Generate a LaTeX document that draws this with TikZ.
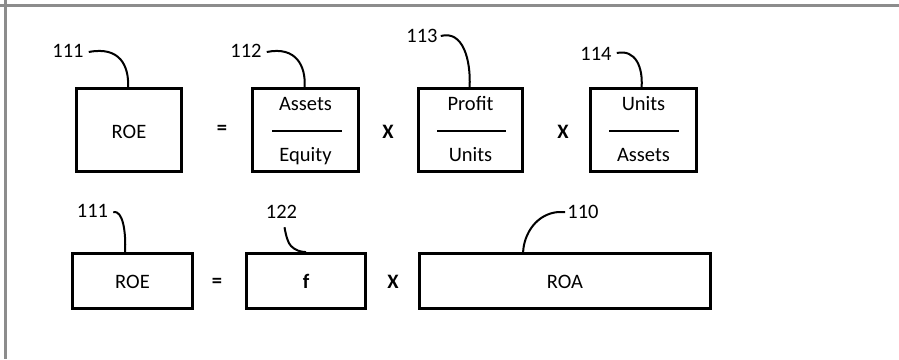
\documentclass[tikz,border=0pt]{standalone}
\usepackage{fontspec}
\setmainfont{Carlito}
\usetikzlibrary{calc}
\begin{document}
\begin{tikzpicture}[x=1pt,y=-1pt,
  every node/.style={font=\fontsize{20.5}{24}\selectfont},
  boxnode/.style={draw=black,line width=2.8pt,inner sep=0pt},
  lbl/.style={anchor=base,inner sep=0pt},
  txt/.style={anchor=base,inner sep=0pt},
  op/.style={anchor=base,inner sep=0pt,font=\fontsize{20.5}{24}\selectfont\bfseries},
  fracline/.style={line width=2.8pt},
  leader/.style={line width=2pt}]
\useasboundingbox (0,0) rectangle (899,359);
\fill[white] (0,0) rectangle (899,359);
\draw[black!45,line width=3pt] (0,5) -- (899,5);
\draw[black!45,line width=3pt] (5.8,0) -- (5.8,359);

% top row boxes
\node[boxnode,minimum width=105pt,minimum height=83pt] (roeA) at (129,130) {};
\node[boxnode,minimum width=106pt,minimum height=83pt] (fracA) at (305.5,130) {};
\node[boxnode,minimum width=104pt,minimum height=83pt] (fracB) at (470.5,130) {};
\node[boxnode,minimum width=106pt,minimum height=83pt] (fracC) at (643.5,130) {};

\node[txt] (roeAt) at (129,138) {ROE};
\node[op] (eqA) at (222,134) {=};
\node[op] (xA) at (388,138) {X};
\node[op] (xB) at (563,138) {X};

\node[txt] (nA1) at (305.5,110) {Assets};
\node[txt] (dA1) at (305.5,161) {Equity};
\node[txt] (nB1) at (470.5,110) {Profit};
\node[txt] (dB1) at (470.5,161) {Units};
\node[txt] (nC1) at (643.5,110) {Units};
\node[txt] (dC1) at (643.5,161) {Assets};
\coordinate (fa1) at (272,131); \coordinate (fa2) at (342,131);
\coordinate (fb1) at (437,131); \coordinate (fb2) at (506,131);
\coordinate (fc1) at (609,131); \coordinate (fc2) at (679,131);
\draw[fracline] (fa1) -- (fa2);
\draw[fracline] (fb1) -- (fb2);
\draw[fracline] (fc1) -- (fc2);

% top labels
\node[lbl] (l111a) at (68,57) {111};
\node[lbl] (l112) at (246,57) {112};
\node[lbl] (l113) at (422,42) {113};
\node[lbl] (l114) at (596,60) {114};

\draw[leader] ($(l111a.base east)+(5,-5)$) .. controls (120,46) and (129,66) .. ($(roeA.north west)+(53,0)$);
\draw[leader] ($(l112.base east)+(5,-5)$) .. controls (296,46) and (306,66) .. ($(fracA.north west)+(53.5,0)$);
\draw[leader] ($(l113.base east)+(3,-6)$) .. controls (463,30) and (471,60) .. ($(fracB.north west)+(52.5,0)$);
\draw[leader] ($(l114.base east)+(5,-7)$) .. controls (636,49) and (643,68) .. ($(fracC.north west)+(52.5,0)$);

% bottom row
\node[boxnode,minimum width=120pt,minimum height=55pt] (roeB) at (132.5,281) {};
\node[boxnode,minimum width=119pt,minimum height=55pt] (fbox) at (306,281) {};
\node[boxnode,minimum width=291pt,minimum height=55pt] (roa) at (565,281) {};

\node[txt] (roeBt) at (132.5,288) {ROE};
\node[op] (eqB) at (217,287) {=};
\node[op] (ft) at (306,288) {f};
\node[op] (xC) at (393,288) {X};
\node[txt] (roat) at (565,288) {ROA};

\node[lbl] (l111b) at (92.5,217) {111};
\node[lbl] (l122) at (281.5,218) {122};
\node[lbl] (l110) at (583,218) {110};

\draw[leader] ($(l111b.base east)+(5,-5)$) .. controls (123,210) and (126,232) .. ($(roeB.north west)+(54,0)$);
\draw[leader] ($(l122.south)+(3,9)$) .. controls (286,236) and (288,243) .. (291,246) .. controls (295,250) and (300,252) .. ($(fbox.north west)+(61,0)$);
\draw[leader] ($(l110.base west)+(-2,-6)$) -- ($(l110.base west)+(-9,-6)$) .. controls (536,214) and (524,234) .. ($(roa.north west)+(105,0)$);
\end{tikzpicture}
\end{document}
